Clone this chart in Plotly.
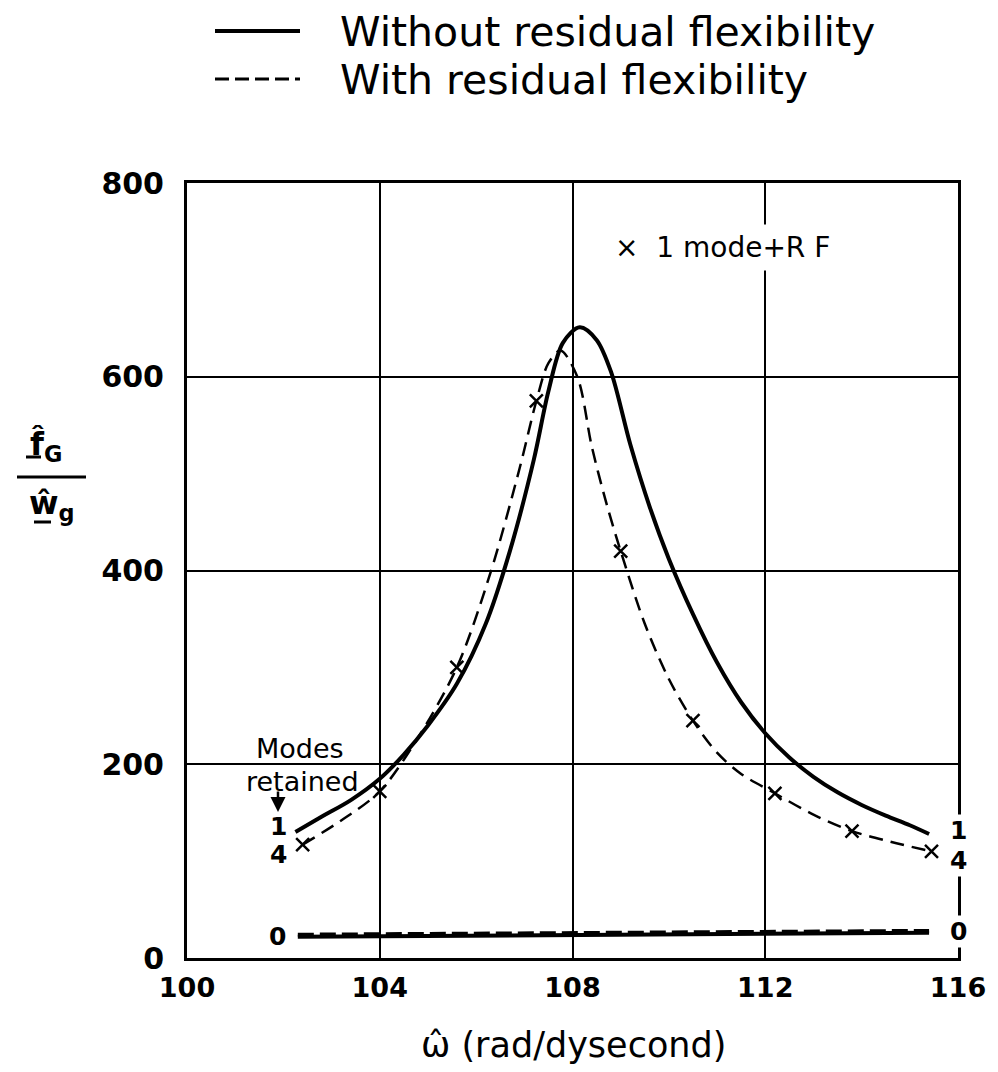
import plotly.graph_objects as go

# ---------------- data ----------------
solid_x = [102.25, 102.8, 103.4, 104.0, 104.5, 105.0, 105.6, 106.2, 106.7, 107.2, 107.5, 107.8,
           108.15, 108.5, 108.8, 109.2, 109.6, 110.0, 110.5, 111.0, 111.5, 112.0, 112.5, 113.0,
           113.5, 114.0, 114.5, 115.0, 115.4]
solid_y = [130, 146, 163, 185, 210, 240, 283, 345, 420, 515, 585, 635,
           651, 638, 605, 530, 466, 412, 355, 305, 264, 232, 207, 187,
           171, 158, 147, 137, 128]

dashed_x = [102.4, 103.2, 104.0, 104.8, 105.6, 106.3, 106.9, 107.25, 107.5, 107.75, 108.1, 108.4,
            108.7, 109.0, 109.5, 110.0, 110.5, 111.0, 111.5, 112.2, 113.0, 113.8, 114.6, 115.45]
dashed_y = [117, 142, 172, 228, 300, 398, 505, 575, 614, 627, 600, 528,
            470, 420, 345, 288, 245, 212, 190, 170, 148, 131, 120, 110]

rf_x = [102.4, 104.0, 105.6, 107.25, 109.0, 110.5, 112.2, 113.8, 115.45]
rf_y = [117, 172, 300, 575, 420, 245, 170, 131, 110]

zero_x = [102.3, 115.4]
zero_solid_y = [22, 26]
zero_dashed_y = [24, 28]

x_ticks = [100, 104, 108, 112, 116]
y_ticks = [0, 200, 400, 600, 800]

# ---------------- layout geometry ----------------
W, H = 998, 1072
L, R, T, B = 187, 958, 183, 958
FONT = "DejaVu Sans"


def px(p):
    return (p - L) / (R - L)


def py(p):
    return (B - p) / (B - T)


def dy(p):
    # pixel row inside the plot -> data value on the y axis
    return (B - p) * 800 / (B - T)


def dx(p):
    return 100 + (p - L) * 16 / (R - L)


fig = go.Figure()

fig.add_trace(go.Scatter(x=solid_x, y=solid_y, mode="lines",
                         line=dict(color="black", width=4, shape="spline", smoothing=0.9),
                         showlegend=False, hoverinfo="skip"))
fig.add_trace(go.Scatter(x=dashed_x, y=dashed_y, mode="lines",
                         line=dict(color="black", width=2.5, shape="spline", smoothing=0.9,
                                   dash="14px,8px"),
                         showlegend=False, hoverinfo="skip"))
fig.add_trace(go.Scatter(x=rf_x, y=rf_y, mode="markers",
                         marker=dict(symbol="x-thin", size=13, color="black",
                                     line=dict(color="black", width=2.5)),
                         showlegend=False, hoverinfo="skip"))
fig.add_trace(go.Scatter(x=zero_x, y=zero_solid_y, mode="lines",
                         line=dict(color="black", width=4),
                         showlegend=False, hoverinfo="skip"))
fig.add_trace(go.Scatter(x=zero_x, y=zero_dashed_y, mode="lines",
                         line=dict(color="black", width=4, dash="16px,6px"),
                         showlegend=False, hoverinfo="skip"))

axis_common = dict(showgrid=True, gridcolor="black", gridwidth=2,
                   showline=True, linecolor="black", linewidth=3, mirror=True,
                   zeroline=False, ticks="")

fig.update_xaxes(range=[100, 116], tickvals=x_ticks, ticktext=[str(v) for v in x_ticks],
                 tickfont=dict(family=FONT, size=27, color="black", weight="bold"),
                 ticklabelstandoff=4, **axis_common)
fig.update_yaxes(range=[0, 800], tickvals=y_ticks, ticktext=[str(v) for v in y_ticks],
                 tickfont=dict(family=FONT, size=30, color="black", weight="bold"),
                 ticklabelstandoff=14, **axis_common)

annotations = []
shapes = []

# legend (manual, long samples as in the original)
shapes.append(dict(type="line", xref="paper", yref="paper", x0=px(215), x1=px(300),
                   y0=py(31), y1=py(31), line=dict(color="black", width=4)))
shapes.append(dict(type="line", xref="paper", yref="paper", x0=px(215), x1=px(300),
                   y0=py(79), y1=py(79), line=dict(color="black", width=3, dash="14px,6px")))
annotations.append(dict(xref="paper", yref="paper", x=px(338), y=py(32), xanchor="left",
                        yanchor="middle", showarrow=False, text="Without residual flexibility",
                        font=dict(family=FONT, size=41, color="black")))
annotations.append(dict(xref="paper", yref="paper", x=px(338), y=py(80), xanchor="left",
                        yanchor="middle", showarrow=False, text="With residual flexibility",
                        font=dict(family=FONT, size=41, color="black")))

# x-axis title
annotations.append(dict(xref="paper", yref="paper", x=px(573), y=py(1045), xanchor="center",
                        yanchor="middle", showarrow=False, text="\u03c9\u0302 (rad/dysecond)",
                        font=dict(family=FONT, size=35, color="black")))

# y-axis title as a fraction
annotations.append(dict(xref="paper", yref="paper", x=px(46), y=py(446), xanchor="center",
                        yanchor="middle", showarrow=False, text="f\u0302<sub>G</sub>",
                        font=dict(family=FONT, size=32, color="black", weight="bold")))
annotations.append(dict(xref="paper", yref="paper", x=px(52), y=py(505), xanchor="center",
                        yanchor="middle", showarrow=False, text="w\u0302<sub>g</sub>",
                        font=dict(family=FONT, size=32, color="black", weight="bold")))
shapes.append(dict(type="line", xref="paper", yref="paper", x0=px(17), x1=px(86),
                   y0=py(477), y1=py(477), line=dict(color="black", width=3)))
shapes.append(dict(type="line", xref="paper", yref="paper", x0=px(26), x1=px(41),
                   y0=py(457), y1=py(457), line=dict(color="black", width=3)))
shapes.append(dict(type="line", xref="paper", yref="paper", x0=px(34), x1=px(51),
                   y0=py(522), y1=py(522), line=dict(color="black", width=3)))

# in-plot text
annotations.append(dict(x=dx(722), y=dy(247), xref="x", yref="y", showarrow=False,
                        text="\u00d7  1 mode+R F", bgcolor="white", borderpad=6,
                        font=dict(family=FONT, size=28, color="black")))
annotations.append(dict(x=dx(300), y=dy(748), xref="x", yref="y",
                        showarrow=False, text="Modes",
                        font=dict(family=FONT, size=27, color="black")))
annotations.append(dict(x=dx(302), y=dy(781), xref="x", yref="y",
                        showarrow=False, text="retained",
                        font=dict(family=FONT, size=27, color="black")))
annotations.append(dict(x=dx(278), y=dy(812), xref="x", yref="y", showarrow=True, text="",
                        ax=0, ay=-22, arrowhead=2, arrowsize=1.2, arrowwidth=2.5,
                        arrowcolor="black"))

lab_font = dict(family=FONT, size=25, color="black", weight="bold")
annotations.append(dict(x=dx(278), y=dy(826), xref="x", yref="y", showarrow=False, text="1",
                        font=lab_font))
annotations.append(dict(x=dx(278), y=dy(854), xref="x", yref="y", showarrow=False, text="4",
                        font=lab_font))
annotations.append(dict(x=dx(277), y=dy(936), xref="x", yref="y", showarrow=False, text="0",
                        font=lab_font))
annotations.append(dict(x=116, y=dy(830), xref="x", yref="y", showarrow=False, text="1",
                        bgcolor="white", font=lab_font))
annotations.append(dict(x=116, y=dy(860), xref="x", yref="y", showarrow=False, text="4",
                        bgcolor="white", font=lab_font))
annotations.append(dict(x=116, y=dy(931), xref="x", yref="y", showarrow=False, text="0",
                        bgcolor="white", font=lab_font))

fig.update_layout(
    width=W, height=H, autosize=False,
    margin=dict(l=L, r=W - R, t=T, b=H - B, pad=0),
    paper_bgcolor="white", plot_bgcolor="white",
    font=dict(family=FONT, color="black"),
    showlegend=False,
    annotations=annotations,
    shapes=shapes,
)

fig.write_html("out.html", config={"displayModeBar": False},
               post_script="document.body.style.margin='0';document.body.style.overflow='hidden';")
